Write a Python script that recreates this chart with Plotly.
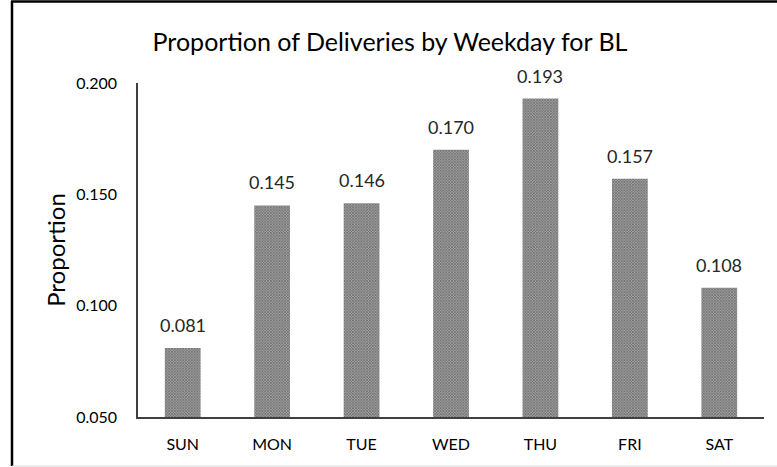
import plotly.graph_objects as go

days = ["SUN", "MON", "TUE", "WED", "THU", "FRI", "SAT"]
proportions = [0.081, 0.145, 0.146, 0.170, 0.193, 0.157, 0.108]
tick_vals = [0.050, 0.100, 0.150, 0.200]
tick_text = ["0.050", "0.100", "0.150", "0.200"]
baseline = 0.05

W, H = 777, 467
L, R, T, B = 138, 13, 83, 50
pw, ph = W - L - R, H - T - B

def px_x(px):
    return (px - L) / pw

def px_y(py):
    return (H - B - py) / ph

FONT = "Lato"
fig = go.Figure(
    go.Bar(
        x=days,
        y=[v - baseline for v in proportions],
        base=baseline,
        width=0.40,
        marker=dict(
            color="#808080",
            line=dict(width=0),
            pattern=dict(shape="x", size=2, solidity=0.5, fgcolor="#111111", bgcolor="#a4a4a4"),
        ),
        hoverinfo="skip",
    )
)
for d, v in zip(days, proportions):
    fig.add_annotation(
        x=d, y=v, xref="x", yref="y",
        text=f"{v:.3f}", showarrow=False,
        yanchor="bottom", yshift=10,
        font=dict(family=FONT, size=18, color="#262626"),
    )

fig.update_layout(
    width=W,
    height=H,
    margin=dict(l=L, r=R, t=T, b=B),
    paper_bgcolor="white",
    plot_bgcolor="white",
    showlegend=False,
    title=dict(
        text="Proportion of Deliveries by Weekday for BL",
        x=390 / W,
        xanchor="center",
        y=1 - 42 / H,
        yanchor="middle",
        font=dict(family=FONT, size=25, color="#000000"),
    ),
    font=dict(family=FONT),
)
fig.update_xaxes(
    showgrid=False,
    showline=True,
    linecolor="#404040",
    linewidth=1.5,
    ticks="",
    tickfont=dict(family=FONT, size=16, color="#000000"),
    ticklabelstandoff=12,
)
fig.update_yaxes(
    range=[0.05, 0.2],
    tickvals=tick_vals,
    ticktext=tick_text,
    showgrid=False,
    zeroline=False,
    showline=True,
    linecolor="#404040",
    linewidth=1.5,
    ticks="",
    tickfont=dict(family=FONT, size=16, color="#000000"),
    ticklabelstandoff=16,
    title=dict(text="Proportion", font=dict(family=FONT, size=24, color="#000000"), standoff=4),
)
fig.add_shape(type="line", xref="paper", yref="paper",
              x0=px_x(11), x1=px_x(778), y0=px_y(1.5), y1=px_y(1.5),
              line=dict(color="black", width=2.5))
fig.add_shape(type="line", xref="paper", yref="paper",
              x0=px_x(12), x1=px_x(12), y0=px_y(1), y1=px_y(466),
              line=dict(color="black", width=2.5))
fig.add_shape(type="line", xref="paper", yref="paper",
              x0=px_x(12), x1=px_x(778), y0=px_y(466), y1=px_y(466),
              line=dict(color="#d9d9d9", width=1))

fig.write_html(
    "out.html",
    config={"displayModeBar": False},
    post_script=(
        "document.body.style.margin='0';"
        "document.body.style.overflow='hidden';"
        "document.documentElement.style.overflow='hidden';"
    ),
)
